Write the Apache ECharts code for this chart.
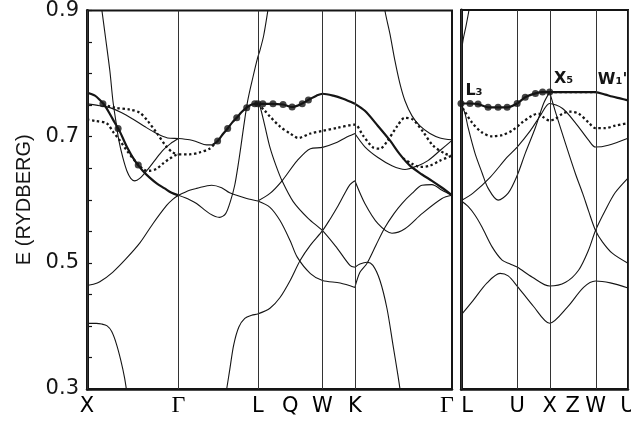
<!DOCTYPE html>
<html>
<head>
<meta charset="utf-8">
<script src="https://cdn.jsdelivr.net/npm/echarts@6/dist/echarts.min.js"></script>
<style>
  html, body { margin: 0; padding: 0; background: #fff; }
  #chart { width: 631px; height: 423px; }
</style>
</head>
<body>
<div id="chart"></div>
<script>
// k along the path in units of 2pi/a, E in Rydberg
// left panel: X - Gamma - L - (Q) - W - K - Gamma
var leftPoints = [[0, 'X'], [1, 'Γ'], [1.866, 'L'], [2.22, 'Q'], [2.573, 'W'], [2.927, 'K'], [3.988, 'Γ']]
// right panel: L - U - X - (Z) - W - U
var rightPoints = [[0, 'L'], [0.612, 'U'], [0.966, 'X'], [1.216, 'Z'], [1.466, 'W'], [1.82, 'U']]
var noLine = ['Q', 'Z']

// thin bands, left panel
var bandA = [[0, 0.404], [0.1, 0.404], [0.16, 0.403], [0.22, 0.4], [0.27, 0.391], [0.32, 0.372], [0.37, 0.345], [0.41, 0.318], [0.44, 0.29]]
var bandB = [[0, 0.464], [0.07, 0.466], [0.14, 0.47], [0.28, 0.485], [0.43, 0.507], [0.58, 0.532], [0.72, 0.562], [0.87, 0.591], [0.94, 0.601], [1, 0.607]]
var bandD = [[0, 0.752], [0.141, 0.749], [0.25, 0.746], [0.38, 0.738], [0.5, 0.728], [0.63, 0.716], [0.761, 0.705], [0.88, 0.698], [1, 0.697], [1.121, 0.695], [1.197, 0.692], [1.307, 0.687], [1.373, 0.687]]
var bandE = [[0.145, 0.92], [0.163, 0.9], [0.207, 0.852], [0.25, 0.804], [0.283, 0.757], [0.315, 0.725], [0.348, 0.694], [0.391, 0.667], [0.435, 0.646], [0.478, 0.634], [0.522, 0.63], [0.576, 0.634], [0.652, 0.646], [0.739, 0.662], [0.826, 0.678], [0.913, 0.689], [1, 0.697]]
var bandM = [[1, 0.607], [1.121, 0.615], [1.197, 0.618], [1.362, 0.623], [1.471, 0.619], [1.559, 0.611], [1.745, 0.602], [1.866, 0.598]]
var bandN = [[1, 0.607], [1.121, 0.6], [1.197, 0.594], [1.34, 0.578], [1.449, 0.572], [1.515, 0.578], [1.57, 0.599], [1.614, 0.623], [1.647, 0.651], [1.68, 0.683], [1.713, 0.717], [1.756, 0.757], [1.811, 0.793], [1.866, 0.826], [1.888, 0.836], [1.93, 0.86], [1.976, 0.9], [1.995, 0.92]]
var bandJ = [[1.5, 0.28], [1.526, 0.3], [1.559, 0.33], [1.603, 0.37], [1.658, 0.398], [1.724, 0.412], [1.8, 0.417], [1.866, 0.419], [1.999, 0.428], [2.109, 0.445], [2.22, 0.472], [2.33, 0.504], [2.441, 0.528], [2.573, 0.551], [2.659, 0.57], [2.734, 0.588], [2.82, 0.611], [2.873, 0.624], [2.927, 0.63]]
var bandJ2 = [[2.927, 0.63], [3.036, 0.594], [3.179, 0.562], [3.332, 0.547], [3.474, 0.554], [3.66, 0.578], [3.879, 0.602], [3.988, 0.607]]
var bandI = [[1.866, 0.598], [1.999, 0.588], [2.109, 0.567], [2.22, 0.535], [2.297, 0.509], [2.441, 0.483], [2.573, 0.472], [2.766, 0.468], [2.927, 0.461]]
var bandI2 = [[2.927, 0.461], [2.982, 0.485], [3.058, 0.499], [3.157, 0.528], [3.255, 0.556], [3.354, 0.578], [3.441, 0.594], [3.551, 0.61], [3.66, 0.623], [3.769, 0.624], [3.879, 0.615], [3.988, 0.607]]
var bandH = [[1.866, 0.598], [1.999, 0.61], [2.131, 0.63], [2.297, 0.662], [2.441, 0.681], [2.573, 0.683], [2.734, 0.691], [2.82, 0.698], [2.927, 0.705]]
var bandH2 = [[2.927, 0.705], [3.036, 0.684], [3.179, 0.667], [3.332, 0.654], [3.474, 0.648], [3.616, 0.654], [3.725, 0.662], [3.857, 0.678], [3.988, 0.694]]
var bandG = [[1.866, 0.752], [1.888, 0.749], [1.943, 0.717], [1.999, 0.683], [2.065, 0.654], [2.131, 0.63], [2.253, 0.597], [2.419, 0.57], [2.573, 0.551], [2.734, 0.523], [2.873, 0.496], [2.927, 0.493]]
var bandG2 = [[2.927, 0.493], [2.982, 0.498], [3.058, 0.501], [3.124, 0.496], [3.201, 0.472], [3.277, 0.428], [3.343, 0.37], [3.397, 0.322], [3.43, 0.29]]
var bandF = [[3.244, 0.92], [3.255, 0.9], [3.31, 0.863], [3.365, 0.82], [3.419, 0.784], [3.474, 0.757], [3.551, 0.733], [3.638, 0.717], [3.747, 0.705], [3.857, 0.698], [3.988, 0.695]]

// heavy bands, left panel
var boldXG = [[0, 0.77], [0.087, 0.765], [0.141, 0.758], [0.196, 0.749], [0.25, 0.736], [0.304, 0.722], [0.359, 0.708], [0.435, 0.684], [0.522, 0.662], [0.609, 0.646], [0.685, 0.635], [0.761, 0.626], [0.848, 0.618], [0.924, 0.611], [1, 0.607]]
var boldGL = [[1.373, 0.687], [1.42, 0.692], [1.449, 0.697], [1.49, 0.705], [1.537, 0.713], [1.59, 0.723], [1.636, 0.73], [1.69, 0.739], [1.745, 0.746], [1.8, 0.751], [1.866, 0.752], [1.999, 0.752], [2.142, 0.751], [2.241, 0.747], [2.33, 0.751], [2.441, 0.76], [2.507, 0.765], [2.573, 0.768], [2.691, 0.765], [2.798, 0.76], [2.927, 0.752]]
var boldKG = [[2.927, 0.752], [3.036, 0.741], [3.179, 0.717], [3.31, 0.694], [3.419, 0.672], [3.529, 0.654], [3.66, 0.64], [3.769, 0.63], [3.879, 0.619], [3.988, 0.607]]
var dotsLeft = [[0.174, 0.752], [0.34, 0.713], [0.56, 0.655], [1.427, 0.693], [1.537, 0.713], [1.636, 0.73], [1.745, 0.746], [1.833, 0.752], [1.866, 0.752], [1.921, 0.752], [2.032, 0.752], [2.142, 0.751], [2.241, 0.747], [2.352, 0.752], [2.419, 0.758]]

// dotted bands, left panel
var dotXG1 = [[0.174, 0.751], [0.304, 0.746], [0.467, 0.743], [0.576, 0.738], [0.663, 0.725], [0.761, 0.706], [0.859, 0.686], [0.935, 0.675], [1, 0.672]]
var dotXG2 = [[0, 0.727], [0.087, 0.725], [0.217, 0.721], [0.283, 0.708], [0.359, 0.694], [0.435, 0.678], [0.554, 0.657], [0.652, 0.646], [0.685, 0.646], [0.761, 0.649], [0.826, 0.657], [0.902, 0.665], [1, 0.672], [1.121, 0.672], [1.23, 0.675], [1.34, 0.681], [1.395, 0.689]]
var dotLG = [[1.866, 0.752], [1.943, 0.741], [1.999, 0.732], [2.109, 0.716], [2.22, 0.705], [2.308, 0.698], [2.441, 0.705], [2.573, 0.709], [2.734, 0.714], [2.927, 0.719], [3.015, 0.702], [3.124, 0.683], [3.201, 0.681], [3.277, 0.692], [3.386, 0.716], [3.474, 0.73], [3.561, 0.727], [3.671, 0.708], [3.78, 0.686], [3.912, 0.673], [3.988, 0.67]]
var dotKG = [[3.452, 0.666], [3.551, 0.657], [3.638, 0.652], [3.747, 0.654], [3.857, 0.662], [3.988, 0.67]]

// right panel
var boldR = [[0, 0.752], [0.098, 0.752], [0.186, 0.751], [0.295, 0.746], [0.404, 0.746], [0.503, 0.746], [0.612, 0.752], [0.7, 0.762], [0.811, 0.768], [0.889, 0.77], [0.966, 0.77], [1.086, 0.77], [1.249, 0.77], [1.39, 0.77], [1.466, 0.77], [1.573, 0.766], [1.648, 0.763], [1.734, 0.76], [1.82, 0.757]]
var dotsRight = [[0, 0.752], [0.098, 0.752], [0.186, 0.751], [0.295, 0.746], [0.404, 0.746], [0.503, 0.746], [0.612, 0.752], [0.7, 0.762], [0.811, 0.768], [0.889, 0.77], [0.966, 0.77]]
var dottedXW = [[0.966, 0.77], [1.466, 0.77]]
var dotR = [[0, 0.752], [0.022, 0.744], [0.12, 0.722], [0.23, 0.706], [0.339, 0.7], [0.448, 0.702], [0.557, 0.709], [0.667, 0.722], [0.778, 0.733], [0.844, 0.736], [0.9, 0.73], [0.966, 0.725], [1.031, 0.728], [1.107, 0.736], [1.194, 0.739], [1.281, 0.736], [1.39, 0.722], [1.466, 0.713], [1.573, 0.713], [1.681, 0.717], [1.82, 0.721]]
var bandR3 = [[0, 0.752], [0.044, 0.736], [0.077, 0.714], [0.153, 0.673], [0.23, 0.642], [0.295, 0.618], [0.404, 0.599], [0.514, 0.61], [0.612, 0.638], [0.7, 0.673], [0.811, 0.714], [0.9, 0.752], [0.966, 0.77]]
var bandR4 = [[0, 0.598], [0.131, 0.61], [0.317, 0.635], [0.503, 0.667], [0.612, 0.683], [0.756, 0.709], [0.866, 0.733], [0.966, 0.752], [1.107, 0.744], [1.249, 0.721], [1.39, 0.694], [1.466, 0.683], [1.605, 0.686], [1.82, 0.697]]
var bandR5 = [[0, 0.598], [0.077, 0.589], [0.153, 0.575], [0.23, 0.556], [0.339, 0.525], [0.448, 0.504], [0.536, 0.498], [0.612, 0.493], [0.778, 0.477], [0.966, 0.463], [1.14, 0.469], [1.281, 0.488], [1.39, 0.52], [1.466, 0.551], [1.573, 0.583], [1.681, 0.611], [1.82, 0.634]]
var bandR6 = [[0, 0.417], [0.131, 0.44], [0.284, 0.468], [0.426, 0.483], [0.514, 0.479], [0.612, 0.463], [0.789, 0.431], [0.966, 0.404], [1.162, 0.43], [1.336, 0.461], [1.466, 0.471], [1.627, 0.468], [1.82, 0.46]]
var bandR7 = [[0.966, 0.77], [1.031, 0.738], [1.14, 0.688], [1.249, 0.64], [1.325, 0.61], [1.39, 0.582], [1.466, 0.551], [1.541, 0.533], [1.648, 0.515], [1.82, 0.499]]
var bandR8 = [[0, 0.828], [0.022, 0.852], [0.055, 0.875], [0.087, 0.9], [0.1, 0.915]]

var ink = '#151515'

function band(data, g, w) {
  return {
    type: 'line', data: data, xAxisIndex: g, yAxisIndex: g,
    symbol: 'none', smooth: 0.3, silent: true, z: 3,
    lineStyle: { color: ink, width: w || 1.1 }
  }
}
function dotted(data, g) {
  return {
    type: 'line', data: data, xAxisIndex: g, yAxisIndex: g,
    symbol: 'none', smooth: 0.3, silent: true, z: 4,
    lineStyle: { color: ink, width: 2.3, type: [2.4, 2.6], cap: 'butt' }
  }
}
function dots(data, g) {
  return {
    type: 'scatter', data: data, xAxisIndex: g, yAxisIndex: g,
    symbol: 'circle', symbolSize: 7, silent: true, z: 5,
    itemStyle: { color: ink }
  }
}
// vertical lines through the symmetry points
function symLines(points) {
  return {
    silent: true, symbol: ['none', 'none'], animation: false,
    lineStyle: { color: '#333', width: 1, type: 'solid' },
    label: { show: false },
    data: points.filter(function (p) { return noLine.indexOf(p[1]) < 0 })
      .map(function (p) { return { xAxis: p[0] } })
  }
}
// symmetry point names under the axis
function symLabels(points, g) {
  var last = points.length - 1
  return {
    type: 'scatter', xAxisIndex: g, yAxisIndex: g, symbolSize: 0, silent: true, z: 6,
    itemStyle: { opacity: 1 },
    emphasis: { disabled: true },
    data: points.map(function (p, i) {
      var serif = p[1] === 'Γ'
      var off = [0, 0]
      if (g === 0 && i === last) off = [-5, 0]
      if (g === 1 && i === 0) off = [6, 0]
      return {
        name: p[1], value: [p[0], 0.3],
        label: {
          show: true, position: 'bottom', distance: serif ? 5 : 7, offset: off,
          formatter: '{b}', color: '#000', opacity: 1,
          fontSize: serif ? 24 : 21,
          fontFamily: serif ? 'Liberation Serif' : 'DejaVu Sans'
        }
      }
    })
  }
}

var leftSeries = [bandA, bandB, bandD, bandE, bandM, bandN, bandJ, bandJ2, bandI, bandI2, bandH, bandH2, bandG, bandG2, bandF].map(function (d) { return band(d, 0) })
leftSeries[0].markLine = symLines(leftPoints)
leftSeries.push(band(boldXG, 0, 2.2), band(boldGL, 0, 2.2), band(boldKG, 0, 2.2))
leftSeries.push(dotted(dotXG1, 0), dotted(dotXG2, 0), dotted(dotLG, 0), dotted(dotKG, 0))
leftSeries.push(dots(dotsLeft, 0), symLabels(leftPoints, 0))

var rightSeries = [bandR3, bandR4, bandR5, bandR6, bandR7, bandR8].map(function (d) { return band(d, 1) })
rightSeries[0].markLine = symLines(rightPoints)
var boldRight = band(boldR, 1, 2.2)
boldRight.markPoint = {
  silent: true, symbol: 'circle', symbolSize: 1,
  itemStyle: { color: 'rgba(0,0,0,0)' },
  label: { show: true, formatter: '{b}', color: ink, fontSize: 16, fontWeight: 'bold', fontFamily: 'DejaVu Sans' },
  data: [
    { name: 'L₃', coord: [0, 0.752], label: { offset: [13, -13] } },
    { name: 'X₅', coord: [0.966, 0.77], label: { offset: [14, -13] } },
    { name: 'W₁\'', coord: [1.466, 0.77], label: { offset: [17, -12] } }
  ]
}
rightSeries.push(boldRight, dotted(dotR, 1), dotted(dottedXW, 1), dots(dotsRight, 1), symLabels(rightPoints, 1))

function yAxisOpt(g) {
  return {
    type: 'value', gridIndex: g, min: 0.3, max: 0.9, interval: 0.05,
    name: g === 0 ? 'E (RYDBERG)' : '', nameLocation: 'middle', nameGap: 50,
    nameTextStyle: { fontSize: 20, color: ink, fontFamily: 'Liberation Sans' },
    axisLine: { show: true, lineStyle: { color: ink, width: 3 } },
    axisTick: { show: g === 0, inside: true, length: 5, lineStyle: { color: ink, width: 1.2 } },
    axisLabel: {
      show: g === 0, margin: 8, color: ink, fontSize: 21, fontFamily: 'DejaVu Sans',
      formatter: function (v) {
        var c = Math.round(v * 100)
        return c % 20 === 10 ? (c / 100).toFixed(1) : ''
      }
    },
    splitLine: { show: false }
  }
}
function xAxisOpt(g, max) {
  return {
    type: 'value', gridIndex: g, min: 0, max: max,
    axisLine: { show: true, lineStyle: { color: ink, width: 2.5 } },
    axisTick: { show: false }, axisLabel: { show: false }, splitLine: { show: false }
  }
}

var chart = echarts.init(document.getElementById('chart'))
chart.setOption({
  animation: false,
  backgroundColor: '#fff',
  grid: [
    { left: 87, top: 10, width: 365, height: 379, show: true, borderColor: ink, borderWidth: 2, backgroundColor: 'transparent' },
    { left: 461, top: 10, width: 167, height: 379, show: true, borderColor: ink, borderWidth: 2, backgroundColor: 'transparent' }
  ],
  xAxis: [xAxisOpt(0, 3.988), xAxisOpt(1, 1.82)],
  yAxis: [yAxisOpt(0), yAxisOpt(1)],
  series: leftSeries.concat(rightSeries)
})
</script>
</body>
</html>
